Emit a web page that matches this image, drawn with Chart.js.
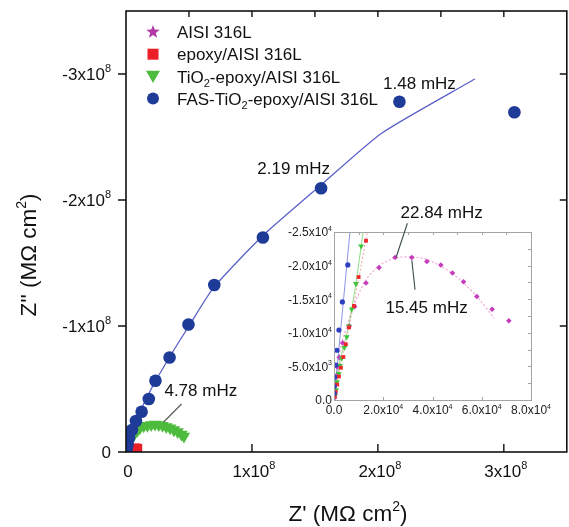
<!DOCTYPE html>
<html>
<head>
<meta charset="utf-8">
<script src="https://cdn.jsdelivr.net/npm/chart.js@4.4.1/dist/chart.umd.min.js"></script>
<style>
  html, body { margin: 0; padding: 0; background: #fff; }
  #wrap { position: relative; width: 569px; height: 527px; overflow: hidden; }
  #main { position: absolute; left: 0; top: 0; }
  #inset { position: absolute; left: 280px; top: 195px; }
</style>
</head>
<body>
<div id="wrap">
  <canvas id="main" width="574" height="527"></canvas>
  <canvas id="inset" width="289" height="235"></canvas>
</div>
<script>
// ---- main Nyquist plot, Z' / Z'' in MΩ cm² ----
const fasRe = [0.004e8, 0.012e8, 0.024e8, 0.047e8, 0.079e8, 0.124e8, 0.181e8, 0.234e8, 0.346e8, 0.496e8, 0.701e8, 1.087e8, 1.549e8, 2.171e8, 3.084e8];
const fasIm = [-0.016e8, -0.056e8, -0.111e8, -0.175e8, -0.246e8, -0.320e8, -0.421e8, -0.566e8, -0.750e8, -1.012e8, -1.325e8, -1.702e8, -2.093e8, -2.780e8, -2.696e8];
const fasFitRe = [0, 0.05e8, 0.2e8, 0.35e8, 0.5e8, 0.7e8, 1.09e8, 1.55e8, 2.03e8, 2.77e8];
const fasFitIm = [0, -0.18e8, -0.5e8, -0.76e8, -1.0e8, -1.31e8, -1.72e8, -2.12e8, -2.53e8, -2.96e8];
const tioRe = [0.01e8, 0.02e8, 0.035e8, 0.05e8, 0.07e8, 0.09e8, 0.11e8, 0.14e8, 0.17e8, 0.2e8, 0.23e8, 0.26e8, 0.29e8, 0.32e8, 0.35e8, 0.38e8, 0.41e8, 0.44e8, 0.46e8];
const tioIm = [-0.03e8, -0.06e8, -0.09e8, -0.12e8, -0.15e8, -0.17e8, -0.19e8, -0.205e8, -0.21e8, -0.215e8, -0.22e8, -0.215e8, -0.21e8, -0.2e8, -0.19e8, -0.175e8, -0.16e8, -0.14e8, -0.125e8];
const epoxyRe = [0.01e8, 0.03e8, 0.05e8, 0.07e8, 0.085e8, 0.095e8];
const epoxyIm = [-0.005e8, -0.015e8, -0.025e8, -0.032e8, -0.034e8, -0.03e8];

const mainXTicks = [0, 1e8, 2e8, 3e8];
const mainXLabels = ['0', '1x10⁸', '2x10⁸', '3x10⁸'];
const mainYTicks = [0, -1e8, -2e8, -3e8];
const mainYLabels = ['0', '-1x10⁸', '-2x10⁸', '-3x10⁸'];
const mainTopTicks = [0.5e8, 1e8, 1.5e8, 2e8, 2.5e8, 3e8];

// ---- inset, low-impedance region ----
const aisiRe = [150, 250, 400, 600, 900, 1300, 2150, 3500, 6200, 8400, 13000, 18300, 24800, 31600, 37700, 43400, 48100, 52600, 58000, 64200, 71000];
const aisiIm = [-300, -800, -1500, -2400, -3600, -4900, -6350, -8500, -11000, -13900, -17400, -19700, -21200, -21200, -20600, -20100, -18900, -17600, -15400, -13500, -11800];
const aisiFitRe = [0, 500, 1500, 3000, 5500, 8000, 12500, 18000, 24500, 31000, 37000, 43000, 48500, 53500, 58500, 65000];
const aisiFitIm = [0, -2000, -5000, -8300, -11200, -14000, -17600, -19900, -21100, -21300, -21000, -20000, -18700, -17100, -15200, -12200];
const epoxyInRe = [300, 700, 1300, 2000, 2800, 3800, 4800, 6100, 8100, 10000, 13000];
const epoxyInIm = [-500, -1200, -2300, -3500, -4800, -6400, -8300, -10800, -14000, -18300, -23700];
const epoxyFitRe = [0, 800, 3000, 6200, 10000, 13800];
const epoxyFitIm = [0, -2000, -6000, -11000, -18000, -25500];
const tioInRe = [400, 800, 1200, 1900, 2400, 3100, 4200, 5200, 6000, 7200, 8900, 11000];
const tioInIm = [-600, -1500, -2700, -3900, -5100, -6200, -7800, -9400, -11000, -13500, -17300, -22900];
const tioFitRe = [0, 600, 2500, 6000, 9000, 12000];
const tioFitIm = [0, -2000, -6000, -11000, -17500, -25500];
const fasInRe = [50, 100, 200, 700, 1200, 2000, 3400, 5600];
const fasInIm = [-1000, -2000, -3400, -5200, -7400, -10400, -14600, -20100];
const fasInFitRe = [0, 7000];
const fasInFitIm = [0, -27000];

const insetXTicks = [0, 2e4, 4e4, 6e4, 8e4];
const insetXLabels = ['0.0', '2.0x10⁴', '4.0x10⁴', '6.0x10⁴', '8.0x10⁴'];
const insetYTicks = [0, -5000, -10000, -15000, -20000, -25000];
const insetYLabels = ['0.0', '-5.0x10³', '-1.0x10⁴', '-1.5x10⁴', '-2.0x10⁴', '-2.5x10⁴'];
const insetTopTicks = [1e4, 2e4, 3e4, 4e4, 5e4, 6e4, 7e4];
const insetRightTicks = [-2500, -5000, -7500, -10000, -12500, -15000, -17500, -20000, -22500];

const seriesNames = ['AISI 316L', 'epoxy/AISI 316L', 'TiO₂-epoxy/AISI 316L', 'FAS-TiO₂-epoxy/AISI 316L'];

const FONT = '"Liberation Sans", Arial, sans-serif';
const C_AISI = '#b23aa6', C_EPOXY = '#ec1f26', C_TIO = '#4dbb3d', C_FAS = '#1f3b98';

function pts(xs, ys) { return xs.map((x, i) => ({ x: x, y: ys[i] })); }

// text with unicode super/subscript digits drawn as small raised/lowered digits
const SUP = '⁰¹²³⁴⁵⁶⁷⁸⁹', SUB = '₀₁₂₃₄₅₆₇₈₉';
function splitRich(text) {
  const parts = [];
  for (const ch of text) {
    let kind = 0, c = ch, k = SUP.indexOf(ch);
    if (k >= 0) { kind = 1; c = String(k); }
    else if ((k = SUB.indexOf(ch)) >= 0) { kind = -1; c = String(k); }
    const last = parts[parts.length - 1];
    if (last && last.kind === kind) last.s += c; else parts.push({ kind: kind, s: c });
  }
  return parts;
}
function drawRich(ctx, text, x, y, size, align, color) {
  const parts = splitRich(text);
  const small = Math.round(size * 0.62);
  let w = 0;
  parts.forEach(p => {
    ctx.font = (p.kind ? small : size) + 'px ' + FONT;
    p.w = ctx.measureText(p.s).width;
    w += p.w;
  });
  let cx = align === 'center' ? x - w / 2 : align === 'right' ? x - w : x;
  ctx.textAlign = 'left';
  ctx.textBaseline = 'alphabetic';
  ctx.fillStyle = color || '#111';
  const base = y + size * 0.36;
  parts.forEach(p => {
    ctx.font = (p.kind ? small : size) + 'px ' + FONT;
    const dy = p.kind === 1 ? -size * 0.45 : p.kind === -1 ? size * 0.25 : 0;
    ctx.fillText(p.s, cx, base + dy);
    cx += p.w;
  });
}

function marker(ctx, style, x, y, r, color) {
  ctx.fillStyle = color;
  ctx.beginPath();
  if (style === 'star') {
    for (let i = 0; i < 10; i++) {
      const a = -Math.PI / 2 + i * Math.PI / 5;
      const rr = i % 2 ? r * 0.42 : r;
      ctx.lineTo(x + rr * Math.cos(a), y + rr * Math.sin(a));
    }
  } else if (style === 'rect') {
    ctx.rect(x - r, y - r, 2 * r, 2 * r);
  } else if (style === 'tri') {
    ctx.moveTo(x - r, y - r * 0.8);
    ctx.lineTo(x + r, y - r * 0.8);
    ctx.lineTo(x, y + r * 0.95);
  } else {
    ctx.arc(x, y, r, 0, Math.PI * 2);
  }
  ctx.closePath();
  ctx.fill();
}

function leader(ctx, xs, ys, a, b, color) {
  ctx.strokeStyle = color;
  ctx.lineWidth = 1.1;
  ctx.beginPath();
  ctx.moveTo(xs.getPixelForValue(a[0]), ys.getPixelForValue(a[1]));
  ctx.lineTo(xs.getPixelForValue(b[0]), ys.getPixelForValue(b[1]));
  ctx.stroke();
}

const mainNotes = [
  { text: '1.48 mHz', at: [2.33e8, -2.93e8] },
  { text: '2.19 mHz', at: [1.331e8, -2.254e8] },
  { text: '4.78 mHz', at: [0.594e8, -0.492e8], from: [0.441e8, -0.381e8], to: [0.299e8, -0.238e8] }
];
const insetNotes = [
  { text: '22.84 mHz', at: [4.37e4, -27980], from: [2.98e4, -26300], to: [2.52e4, -21200] },
  { text: '15.45 mHz', at: [3.76e4, -13800], from: [3.29e4, -16400], to: [3.16e4, -20800] }
];

const mainDecor = {
  id: 'mainDecor',
  afterDraw(chart) {
    const ctx = chart.ctx, a = chart.chartArea;
    const xs = chart.scales.x, ys = chart.scales.y;
    ctx.save();
    // frame
    ctx.strokeStyle = '#111';
    ctx.lineWidth = 1.6;
    ctx.strokeRect(a.left, a.top, a.right - a.left, a.bottom - a.top);
    ctx.lineWidth = 1.4;
    ctx.beginPath();
    mainYTicks.forEach(v => {
      const py = ys.getPixelForValue(v);
      ctx.moveTo(a.left - 8, py); ctx.lineTo(a.left, py);
      if (v !== 0) { ctx.moveTo(a.right - 7, py); ctx.lineTo(a.right, py); }
    });
    mainXTicks.forEach(v => {
      if (v === 0) return;
      const px = xs.getPixelForValue(v);
      ctx.moveTo(px, a.bottom); ctx.lineTo(px, a.bottom - 8);
    });
    mainTopTicks.forEach(v => {
      const px = xs.getPixelForValue(v);
      ctx.moveTo(px, a.top); ctx.lineTo(px, a.top + 6);
    });
    ctx.stroke();
    // tick labels
    mainXTicks.forEach((v, i) => drawRich(ctx, mainXLabels[i], xs.getPixelForValue(v) + 2, a.bottom + 19, 17, 'center'));
    mainYTicks.forEach((v, i) => drawRich(ctx, mainYLabels[i], a.left - 15, ys.getPixelForValue(v), 17, 'right'));
    // axis titles
    drawRich(ctx, "Z' (MΩ cm²)", 348, 513, 22.5, 'center');
    ctx.save();
    ctx.translate(28, 255);
    ctx.rotate(-Math.PI / 2);
    drawRich(ctx, "Z'' (MΩ cm²)", 0, 0, 22.5, 'center');
    ctx.restore();
    // legend
    const styles = ['star', 'rect', 'tri', 'circle'];
    const colors = [C_AISI, C_EPOXY, C_TIO, C_FAS];
    const sizes = [7, 5.5, 7, 6];
    seriesNames.forEach((name, i) => {
      const y = 32 + i * 22.2;
      marker(ctx, styles[i], 153, y, sizes[i], colors[i]);
      drawRich(ctx, name, 177, y, 17, 'left');
    });
    // frequency notes
    mainNotes.forEach(n => {
      if (n.from) leader(ctx, xs, ys, n.from, n.to, '#555');
      drawRich(ctx, n.text, xs.getPixelForValue(n.at[0]), ys.getPixelForValue(n.at[1]), 17, 'center');
    });
    ctx.restore();
  }
};

const insetDecor = {
  id: 'insetDecor',
  afterDraw(chart) {
    const ctx = chart.ctx, a = chart.chartArea;
    const xs = chart.scales.x, ys = chart.scales.y;
    ctx.save();
    ctx.strokeStyle = '#a4a4a4';
    ctx.lineWidth = 1;
    ctx.strokeRect(a.left + 0.5, a.top + 0.5, a.right - a.left, a.bottom - a.top);
    ctx.beginPath();
    insetXTicks.forEach(v => {
      if (v === 0 || v === 8e4) return;
      const px = Math.round(xs.getPixelForValue(v)) + 0.5;
      ctx.moveTo(px, a.bottom); ctx.lineTo(px, a.bottom - 3);
    });
    insetTopTicks.forEach(v => {
      const px = Math.round(xs.getPixelForValue(v)) + 0.5;
      ctx.moveTo(px, a.top); ctx.lineTo(px, a.top + 3);
    });
    insetRightTicks.forEach(v => {
      const py = Math.round(ys.getPixelForValue(v)) + 0.5;
      ctx.moveTo(a.right, py); ctx.lineTo(a.right - 3, py);
    });
    ctx.stroke();
    insetXTicks.forEach((v, i) => drawRich(ctx, insetXLabels[i], xs.getPixelForValue(v), a.bottom + 10, 12, 'center', '#222'));
    insetYTicks.forEach((v, i) => drawRich(ctx, insetYLabels[i], a.left - 2, ys.getPixelForValue(v), 12, 'right', '#222'));
    insetNotes.forEach(n => {
      leader(ctx, xs, ys, n.from, n.to, '#3c4a4a');
      drawRich(ctx, n.text, xs.getPixelForValue(n.at[0]), ys.getPixelForValue(n.at[1]), 17, 'center');
    });
    ctx.restore();
  }
};

const common = {
  responsive: false,
  animation: false,
  events: [],
  plugins: { legend: { display: false }, tooltip: { enabled: false } }
};

new Chart(document.getElementById('main'), {
  type: 'scatter',
  data: {
    datasets: [
      { label: seriesNames[3], data: pts(fasRe, fasIm), pointStyle: 'circle', pointRadius: 6.3,
        backgroundColor: C_FAS, borderColor: C_FAS, borderWidth: 0, clip: 0 },
      { label: 'fit', data: pts(fasFitRe, fasFitIm), showLine: true, pointRadius: 0, tension: 0.2,
        borderColor: '#5b60c8', borderWidth: 1.3, clip: 0 },
      { label: seriesNames[1], data: pts(epoxyRe, epoxyIm), pointStyle: 'rect', pointRadius: 6,
        backgroundColor: C_EPOXY, borderColor: C_EPOXY, borderWidth: 0, clip: 0 },
      { label: seriesNames[2], data: pts(tioRe, tioIm), pointStyle: 'triangle', rotation: 180, pointRadius: 7.2,
        backgroundColor: C_TIO, borderColor: C_TIO, borderWidth: 0, clip: 0 },
      { label: seriesNames[0], data: pts(aisiRe, aisiIm), pointStyle: 'star', pointRadius: 5,
        backgroundColor: C_AISI, borderColor: C_AISI, borderWidth: 2, clip: 0 }
    ]
  },
  options: Object.assign({}, common, {
    layout: { padding: { left: 126, top: 11, right: 3.5, bottom: 75 } },
    scales: {
      x: { type: 'linear', min: 0, max: 3.5e8, display: false },
      y: { type: 'linear', min: -3.5e8, max: 0, reverse: true, display: false }
    }
  }),
  plugins: [mainDecor]
});

new Chart(document.getElementById('inset'), {
  type: 'scatter',
  data: {
    datasets: [
      { label: seriesNames[3], data: pts(fasInRe, fasInIm), pointStyle: 'circle', pointRadius: 2.6,
        backgroundColor: '#2b3fc0', borderWidth: 0 },
      { label: seriesNames[1], data: pts(epoxyInRe, epoxyInIm), pointStyle: 'rect', pointRadius: 2.7,
        backgroundColor: '#f0262a', borderWidth: 0 },
      { label: seriesNames[2], data: pts(tioInRe, tioInIm), pointStyle: 'triangle', rotation: 180, pointRadius: 3.4,
        backgroundColor: '#3fc43a', borderWidth: 0 },
      { label: seriesNames[0], data: pts(aisiRe, aisiIm), pointStyle: 'rectRot', pointRadius: 2.8,
        backgroundColor: '#c43cbc', borderWidth: 0 },
      { label: 'fit', data: pts(fasInFitRe, fasInFitIm), showLine: true, pointRadius: 0,
        borderColor: '#8d93e6', borderWidth: 1 },
      { label: 'fit', data: pts(epoxyFitRe, epoxyFitIm), showLine: true, pointRadius: 0,
        borderColor: '#f3a3a3', borderWidth: 1, borderDash: [2, 2] },
      { label: 'fit', data: pts(tioFitRe, tioFitIm), showLine: true, pointRadius: 0,
        borderColor: '#8fdc88', borderWidth: 1 },
      { label: 'fit', data: pts(aisiFitRe, aisiFitIm), showLine: true, pointRadius: 0, tension: 0.3,
        borderColor: '#f2a6d6', borderWidth: 1.2, borderDash: [2, 2] }
    ]
  },
  options: Object.assign({}, common, {
    layout: { padding: { left: 54, top: 37, right: 38, bottom: 30 } },
    scales: {
      x: { type: 'linear', min: 0, max: 8e4, display: false },
      y: { type: 'linear', min: -25000, max: 0, reverse: true, display: false }
    }
  }),
  plugins: [insetDecor]
});
</script>
</body>
</html>
